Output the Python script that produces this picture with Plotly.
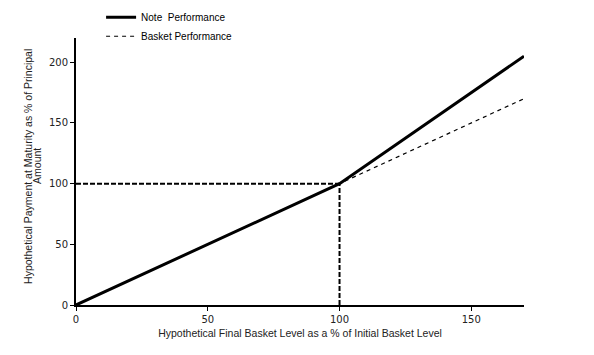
import plotly.graph_objects as go

basket_x = [0, 100, 170]
basket_y = [0, 100, 170]
note_x = [0, 100, 170]
note_y = [0, 100, 205]
ref_h_x = [0, 100]
ref_h_y = [100, 100]
ref_v_x = [100, 100]
ref_v_y = [0, 100]
x_ticks = [0, 50, 100, 150]
y_ticks = [0, 50, 100, 150, 200]
y_title_lines = ["Hypothetical Payment at Maturity as % of Principal", "Amount"]

fig = go.Figure()
fig.add_trace(go.Scatter(x=ref_h_x, y=ref_h_y, mode="lines", showlegend=False,
                         line=dict(color="black", width=2, dash="5px,2px"), hoverinfo="skip"))
fig.add_trace(go.Scatter(x=ref_v_x, y=ref_v_y, mode="lines", showlegend=False,
                         line=dict(color="black", width=2, dash="5px,2px"), hoverinfo="skip"))
fig.add_trace(go.Scatter(x=note_x, y=note_y, mode="lines", name="Note  Performance",
                         line=dict(color="black", width=3)))
fig.add_trace(go.Scatter(x=basket_x, y=basket_y, mode="lines", name="Basket Performance",
                         line=dict(color="black", width=1.2, dash="4px,4px")))

font = "Liberation Sans, Arial, sans-serif"
tickfont = dict(family="DejaVu Sans, Verdana, sans-serif", size=10, color="#222")
fig.update_layout(
    width=594, height=355,
    margin=dict(l=68, r=78, t=30, b=58, autoexpand=False),
    plot_bgcolor="white", paper_bgcolor="white",
    font=dict(family=font, size=11, color="#222"),
    legend=dict(x=0.056, y=1.132, xanchor="left", yanchor="top", font=dict(size=10, color="black"),
                bgcolor="rgba(0,0,0,0)", tracegroupgap=0, itemwidth=30),
    xaxis=dict(range=[0, 170], tickvals=x_ticks, showgrid=False, zeroline=False,
               showline=True, linecolor="black", linewidth=2, ticks="outside", ticklen=4,
               tickcolor="black", tickwidth=1, tickfont=tickfont,
               title=dict(text="Hypothetical Final Basket Level as a % of Initial Basket Level",
                          font=dict(size=10.5), standoff=6)),
    yaxis=dict(range=[0, 220], tickvals=y_ticks, showgrid=False, zeroline=False,
               showline=True, linecolor="black", linewidth=2, ticks="outside", ticklen=4,
               tickcolor="black", tickwidth=1, tickfont=tickfont),
)
for i, (txt, px) in enumerate(zip(y_title_lines, [20.5, 29.5])):
    fig.add_annotation(text=txt, textangle=-90, xref="paper", yref="paper",
                       x=(px - 68) / 448, y=0.519, xanchor="center", yanchor="middle",
                       showarrow=False, font=dict(size=10.5, family=font, color="#222"))
fig.write_html("out.html")
